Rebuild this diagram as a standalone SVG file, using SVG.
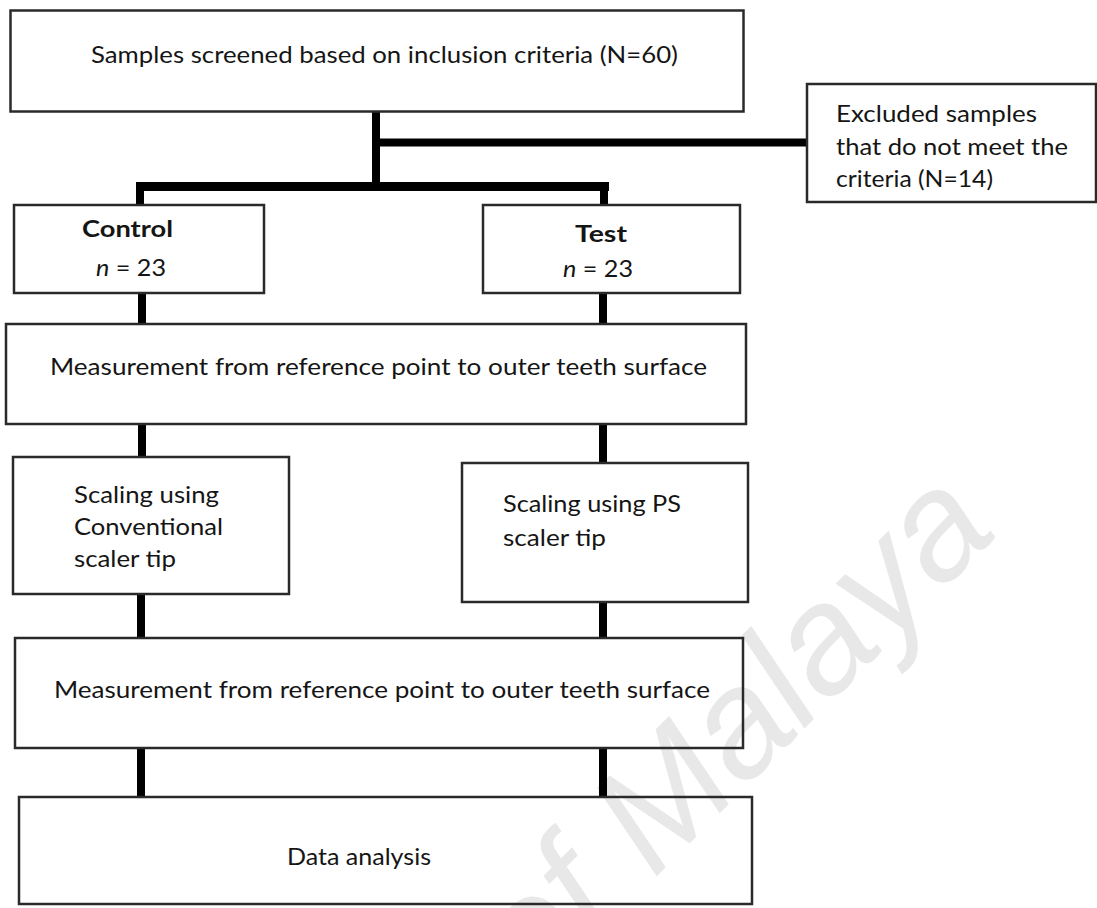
<svg xmlns="http://www.w3.org/2000/svg" width="1097" height="908" viewBox="0 0 1097 908">
<style>
.box{fill:none;stroke:#2a2a2a;stroke-width:2.5}
.t{font-family:Lato,"Open Sans","Liberation Sans",sans-serif;font-size:23px;fill:#151515}
.b{font-weight:bold}
.c{stroke:#000;stroke-width:8;fill:none}
.wm{font-family:"Liberation Sans",Arial,sans-serif;font-style:italic;font-size:152px;fill:#e8e8e8}
</style>
<rect x="0" y="0" width="1097" height="908" fill="#fff"/>
<text class="wm" x="534" y="999" transform="rotate(-45 534 999)">of Malaya</text>
<g id="connectors">
<path class="c" d="M376 112V187"/>
<path class="c" d="M376 142.5H808"/>
<path class="c" style="stroke-width:9" d="M136 186.5H609"/>
<path class="c" d="M140 186V205"/>
<path class="c" d="M604 186V205"/>
<path class="c" d="M142 293V324"/>
<path class="c" d="M603 293V324"/>
<path class="c" d="M142 424V457"/>
<path class="c" d="M603 424V463"/>
<path class="c" d="M141 594V638"/>
<path class="c" d="M603 602V638"/>
<path class="c" d="M141 748V797"/>
<path class="c" d="M603 748V797"/>
</g>
<g id="screened">
<rect class="box" x="10.5" y="10.5" width="733" height="101"/>
<text class="t" x="91" y="63" textLength="587" lengthAdjust="spacingAndGlyphs">Samples screened based on inclusion criteria (N=60)</text>
</g>
<g id="excluded">
<rect class="box" x="807" y="84" width="289" height="118"/>
<text class="t" x="836" y="122" textLength="201" lengthAdjust="spacingAndGlyphs">Excluded samples</text>
<text class="t" x="836" y="155" textLength="232" lengthAdjust="spacingAndGlyphs">that do not meet the</text>
<text class="t" x="836" y="187" textLength="157" lengthAdjust="spacingAndGlyphs">criteria (N=14)</text>
</g>
<g id="control">
<rect class="box" x="14" y="205" width="250" height="88"/>
<text class="t b" x="82" y="237" textLength="91" lengthAdjust="spacingAndGlyphs">Control</text>
<text class="t" x="96" y="276" textLength="70" lengthAdjust="spacingAndGlyphs"><tspan font-style="italic">n</tspan> = 23</text>
</g>
<g id="test">
<rect class="box" x="483" y="205" width="257" height="88"/>
<text class="t b" x="575" y="242" textLength="52" lengthAdjust="spacingAndGlyphs">Test</text>
<text class="t" x="563" y="277" textLength="70" lengthAdjust="spacingAndGlyphs"><tspan font-style="italic">n</tspan> = 23</text>
</g>
<g id="measure1">
<rect class="box" x="6" y="324" width="740" height="100"/>
<text class="t" x="50" y="375" textLength="657" lengthAdjust="spacingAndGlyphs">Measurement from reference point to outer teeth surface</text>
</g>
<g id="scaling-conv">
<rect class="box" x="13" y="457" width="276" height="137"/>
<text class="t" x="74" y="503" textLength="145" lengthAdjust="spacingAndGlyphs">Scaling using</text>
<text class="t" x="74" y="535" textLength="149" lengthAdjust="spacingAndGlyphs">Conventional</text>
<text class="t" x="74" y="567" textLength="102" lengthAdjust="spacingAndGlyphs">scaler tip</text>
</g>
<g id="scaling-ps">
<rect class="box" x="462" y="463" width="286" height="139"/>
<text class="t" x="503" y="512" textLength="178" lengthAdjust="spacingAndGlyphs">Scaling using PS</text>
<text class="t" x="503" y="546" textLength="103" lengthAdjust="spacingAndGlyphs">scaler tip</text>
</g>
<g id="measure2">
<rect class="box" x="15" y="638" width="728" height="110"/>
<text class="t" x="54" y="698" textLength="656" lengthAdjust="spacingAndGlyphs">Measurement from reference point to outer teeth surface</text>
</g>
<g id="analysis">
<rect class="box" x="19" y="797" width="733" height="107"/>
<text class="t" x="287" y="865" textLength="144" lengthAdjust="spacingAndGlyphs">Data analysis</text>
</g>
</svg>
